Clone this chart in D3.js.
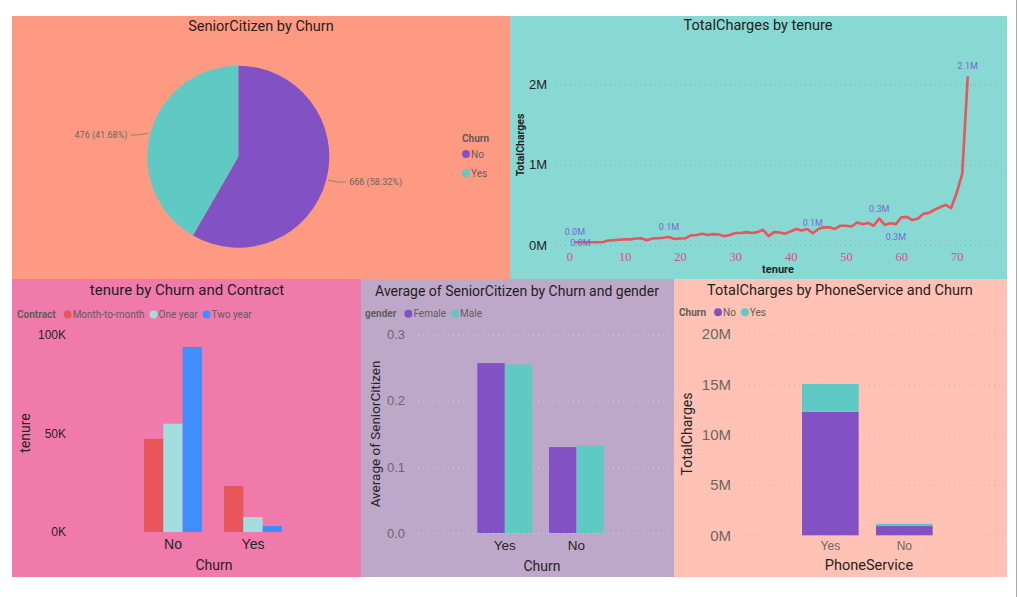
<!DOCTYPE html>
<html>
<head>
<meta charset="utf-8">
<script src="https://cdn.jsdelivr.net/npm/d3@7"></script>
<style>
  body { margin: 0; background: #fff; }
  svg { display: block; font-family: "Roboto", "Noto Sans", sans-serif; }
  .grid .tick line { stroke: #9a8f95; stroke-opacity: 0.6; stroke-dasharray: 1,4; }
  .domain { display: none; }
</style>
</head>
<body>
<svg id="chart" width="1019" height="597"></svg>
<script>
// ---- data ----
const pieCats = ["No", "Yes"];
const pieValues = [666, 476];

const tenure = [1,2,3,4,5,6,7,8,9,10,11,12,13,14,15,16,17,18,19,20,21,22,23,24,
  25,26,27,28,29,30,31,32,33,34,35,36,37,38,39,40,41,42,43,44,45,46,47,48,
  49,50,51,52,53,54,55,56,57,58,59,60,61,62,63,64,65,66,67,68,69,70,71,72];
const totalChargesM = [0.035,0.035,0.035,0.035,0.035,0.035,0.055,0.06,0.065,0.07,0.07,0.08,
  0.085,0.06,0.08,0.085,0.09,0.10,0.075,0.08,0.085,0.12,0.125,0.14,
  0.125,0.135,0.13,0.11,0.125,0.15,0.15,0.16,0.15,0.16,0.19,0.11,
  0.16,0.155,0.14,0.17,0.20,0.18,0.20,0.145,0.20,0.22,0.22,0.20,
  0.24,0.24,0.23,0.28,0.26,0.275,0.24,0.33,0.25,0.27,0.26,0.345,
  0.35,0.31,0.33,0.39,0.40,0.44,0.47,0.50,0.46,0.65,0.89,2.1];
const labelTenures = [1, 2, 18, 44, 56, 59, 72];
const labelsBelow = [2, 59];

const churnCats = ["No", "Yes"];
const contracts = ["Month-to-month", "One year", "Two year"];
const tenureNo = [47200, 54900, 93800];
const tenureYes = [23300, 7600, 3000];

const genderChurn = ["Yes", "No"];
const genders = ["Female", "Male"];
const seniorFemale = [0.257, 0.130];
const seniorMale = [0.255, 0.132];

const phoneCats = ["Yes", "No"];
const chargesChurnNo = [12.26e6, 0.92e6];
const chargesChurnYes = [2.78e6, 0.23e6];

// ---- colours ----
const purple = "#8251C4", teal = "#5FC9C4";
const contractColors = ["#E9565A", "#A0DFDD", "#418CFF"];

const svg = d3.select("#chart");

// panels
const panels = [
  [12, 16, 498, 263, "#FF9A82"],
  [510, 16, 497, 263, "#88D8D4"],
  [12, 279, 349, 298, "#F07BAA"],
  [361, 279, 313, 298, "#BEA8C9"],
  [674, 279, 333, 298, "#FFC2B4"]
];
svg.selectAll("rect.panel").data(panels).enter().append("rect")
  .attr("class", "panel")
  .attr("x", d => d[0]).attr("y", d => d[1])
  .attr("width", d => d[2]).attr("height", d => d[3])
  .attr("fill", d => d[4]);
svg.append("line").attr("x1", 1016.5).attr("x2", 1016.5).attr("y1", 0).attr("y2", 597)
  .attr("stroke", "#aaa");

function title(text, x, y, size) {
  svg.append("text").attr("x", x).attr("y", y).attr("text-anchor", "middle")
    .attr("font-size", size).attr("fill", "#1f1e1d").text(text);
}

function yTitle(text, x, y, size, weight) {
  svg.append("text").attr("transform", `translate(${x},${y}) rotate(-90)`)
    .attr("text-anchor", "middle").attr("font-size", size)
    .attr("font-weight", weight || "normal").attr("fill", "#252423").text(text);
}

function legendRow(x, y, name, items, colors, size) {
  const g = svg.append("g").attr("transform", `translate(${x},${y})`)
    .attr("font-size", size);
  const t = g.append("text").attr("dy", "0.35em").attr("font-weight", "bold")
    .attr("fill", "#605E5C").text(name);
  let cx = t.node().getComputedTextLength() + 8;
  items.forEach((d, i) => {
    g.append("circle").attr("cx", cx + 4).attr("r", 4).attr("fill", colors[i]);
    const tt = g.append("text").attr("x", cx + 9).attr("dy", "0.35em")
      .attr("fill", "#605E5C").text(d);
    cx += 9 + tt.node().getComputedTextLength() + 5;
  });
}

// ================= pie =================
title("SeniorCitizen by Churn", 261, 31, 14.5);
const pie = d3.pie().sort(null)(pieValues);
const radius = 91;
const arc = d3.arc().innerRadius(0).outerRadius(radius);
const pg = svg.append("g").attr("transform", "translate(238.3,156.7)");
pg.selectAll("path").data(pie).enter().append("path")
  .attr("d", arc)
  .attr("fill", (d, i) => [purple, teal][i]);
const edgeArc = d3.arc().innerRadius(radius).outerRadius(radius);
pie.forEach(d => {
  const [px, py] = edgeArc.centroid(d);
  const side = px > 0 ? 1 : -1;
  pg.append("path")
    .attr("d", `M${px + side * 2},${py} Q${px + side * 10},${py + 2} ${px + side * 20},${py + 2}`)
    .attr("fill", "none").attr("stroke", "#777").attr("stroke-width", 0.8);
  pg.append("text")
    .attr("x", px + side * 23).attr("y", py + 2).attr("dy", "0.35em")
    .attr("text-anchor", side > 0 ? "start" : "end")
    .attr("font-size", 9).attr("fill", "#666")
    .text(`${d.data} (${d3.format(".2f")(d.data / d3.sum(pieValues) * 100)}%)`);
});
const lg = svg.append("g").attr("transform", "translate(462,138)").attr("font-size", 10);
lg.append("text").attr("dy", "0.35em").attr("font-weight", "bold").attr("fill", "#605E5C").text("Churn");
pieCats.forEach((c, i) => {
  lg.append("circle").attr("cx", 4).attr("cy", 16 + i * 19).attr("r", 4).attr("fill", [purple, teal][i]);
  lg.append("text").attr("x", 9).attr("y", 16 + i * 19).attr("dy", "0.35em").attr("fill", "#605E5C").text(c);
});

// ================= line =================
title("TotalCharges by tenure", 758, 30, 14.5);
const lx = d3.scaleLinear().domain([0, 70]).range([569.3, 956.7]);
const ly = d3.scaleLinear().domain([0, 2]).range([245, 84.4]);
svg.append("g").attr("class", "grid")
  .attr("transform", "translate(555,0)")
  .call(d3.axisLeft(ly).tickValues([0, 1, 2]).tickFormat(d => d + "M")
    .tickSize(-445).tickPadding(8))
  .call(g => g.selectAll(".tick line").style("stroke", "#c48a9f").style("stroke-opacity", 0.9))
  .call(g => g.selectAll("text").attr("font-size", 13).attr("fill", "#252423"));
svg.append("g").attr("transform", "translate(0,245)")
  .call(d3.axisBottom(lx).tickValues(d3.range(0, 71, 10)).tickSize(0).tickPadding(7))
  .call(g => g.selectAll("text").attr("font-size", 12.5)
    .attr("font-family", "'Liberation Serif', serif").attr("fill", "#D94F8A"));
svg.append("text").attr("x", 778).attr("y", 273).attr("text-anchor", "middle")
  .attr("font-size", 11).attr("font-weight", "bold").attr("fill", "#252423").text("tenure");
yTitle("TotalCharges", 524, 145, 10.5, "bold");
const line = d3.line().x((d, i) => lx(tenure[i])).y(d => ly(d));
svg.append("path").datum(totalChargesM)
  .attr("d", line).attr("fill", "none")
  .attr("stroke", "#E8555A").attr("stroke-width", 2.6).attr("stroke-linejoin", "round");
svg.append("g").selectAll("text").data(labelTenures).enter().append("text")
  .attr("x", t => lx(t))
  .attr("y", t => {
    const v = totalChargesM[tenure.indexOf(t)];
    if (labelsBelow.includes(t)) return ly(v) + (t < 10 ? 4 : 16);
    return ly(v) - 7;
  })
  .attr("text-anchor", "middle").attr("font-size", 9).attr("fill", "#7B68D0")
  .text(t => d3.format(".1f")(totalChargesM[tenure.indexOf(t)]) + "M");

// ================= tenure by Churn and Contract =================
title("tenure by Churn and Contract", 187, 295, 15);
legendRow(17, 314.5, "Contract", contracts, contractColors, 10);
const bx0 = d3.scaleBand().domain(churnCats).range([122, 304]).paddingInner(0.275).paddingOuter(0.275);
const bx1 = d3.scaleBand().domain(contracts).range([0, bx0.bandwidth()]);
const by = d3.scaleLinear().domain([0, 100000]).range([532, 334.7]);
const tenureRows = [tenureNo, tenureYes];
svg.append("g").selectAll("g").data(tenureRows).enter().append("g")
  .attr("transform", (d, i) => `translate(${bx0(churnCats[i])},0)`)
  .selectAll("rect").data(d => d).enter().append("rect")
  .attr("x", (d, j) => bx1(contracts[j]))
  .attr("width", bx1.bandwidth())
  .attr("y", d => by(d))
  .attr("height", d => by(0) - by(d))
  .attr("fill", (d, j) => contractColors[j]);
svg.append("g").attr("transform", "translate(66,0)")
  .call(d3.axisLeft(by).tickValues([0, 50000, 100000]).tickFormat(d => d / 1000 + "K").tickSize(0).tickPadding(0))
  .call(g => g.selectAll("text").attr("font-size", 12).attr("fill", "#252423"));
svg.append("g").attr("transform", "translate(0,532)")
  .call(d3.axisBottom(bx0).tickSize(0).tickPadding(7))
  .call(g => g.selectAll("text").attr("font-size", 14).attr("fill", "#252423"));
svg.append("text").attr("x", 214).attr("y", 570).attr("text-anchor", "middle")
  .attr("font-size", 14).attr("fill", "#252423").text("Churn");
yTitle("tenure", 30, 433, 14);

// ================= Average of SeniorCitizen by Churn and gender =================
title("Average of SeniorCitizen by Churn and gender", 517, 296, 14);
legendRow(365, 313.7, "gender", genders, [purple, teal], 10);
const gx0 = d3.scaleBand().domain(genderChurn).range([460.6, 620.7]).paddingInner(0.233).paddingOuter(0.233);
const gx1 = d3.scaleBand().domain(genders).range([0, gx0.bandwidth()]);
const gy = d3.scaleLinear().domain([0, 0.3]).range([533, 334.7]);
svg.append("g").attr("class", "grid")
  .attr("transform", "translate(413,0)")
  .call(d3.axisLeft(gy).tickValues([0, 0.1, 0.2, 0.3]).tickFormat(d3.format(".1f"))
    .tickSize(-259).tickPadding(8))
  .call(g => g.selectAll(".tick line").style("stroke", "#e4dcea"))
  .call(g => g.selectAll("text").attr("font-size", 13).attr("fill", "#6b6670"));
const genderRows = genderChurn.map((c, i) => [seniorFemale[i], seniorMale[i]]);
svg.append("g").selectAll("g").data(genderRows).enter().append("g")
  .attr("transform", (d, i) => `translate(${gx0(genderChurn[i])},0)`)
  .selectAll("rect").data(d => d).enter().append("rect")
  .attr("x", (d, j) => gx1(genders[j]))
  .attr("width", gx1.bandwidth())
  .attr("y", d => gy(d))
  .attr("height", d => gy(0) - gy(d))
  .attr("fill", (d, j) => [purple, teal][j]);
svg.append("g").attr("transform", "translate(0,533)")
  .call(d3.axisBottom(gx0).tickSize(0).tickPadding(7))
  .call(g => g.selectAll("text").attr("font-size", 13.5).attr("fill", "#252423"));
svg.append("text").attr("x", 542).attr("y", 571).attr("text-anchor", "middle")
  .attr("font-size", 14).attr("fill", "#252423").text("Churn");
yTitle("Average of SeniorCitizen", 380, 434, 13.5);

// ================= TotalCharges by PhoneService and Churn =================
title("TotalCharges by PhoneService and Churn", 840, 295, 14.5);
legendRow(679, 312.3, "Churn", pieCats, [purple, teal], 10);
const px = d3.scaleBand().domain(phoneCats).range([784.7, 950]).paddingInner(0.234).paddingOuter(0.234);
const py = d3.scaleLinear().domain([0, 20e6]).range([535.3, 334]);
svg.append("g").attr("class", "grid")
  .attr("transform", "translate(734,0)")
  .call(d3.axisLeft(py).tickValues([0, 5e6, 10e6, 15e6, 20e6]).tickFormat(d => d / 1e6 + "M")
    .tickSize(-271).tickPadding(3))
  .call(g => g.selectAll(".tick line").style("stroke", "#c9a59c"))
  .call(g => g.selectAll("text").attr("font-size", 15).attr("fill", "#6b6664"));
const phoneRows = phoneCats.map((c, i) => ({ cat: c, No: chargesChurnNo[i], Yes: chargesChurnYes[i] }));
const stacked = d3.stack().keys(pieCats)(phoneRows);
svg.append("g").selectAll("g").data(stacked).enter().append("g")
  .attr("fill", (d, i) => [purple, teal][i])
  .selectAll("rect").data(d => d).enter().append("rect")
  .attr("x", d => px(d.data.cat))
  .attr("width", px.bandwidth())
  .attr("y", d => py(d[1]))
  .attr("height", d => py(d[0]) - py(d[1]));
svg.append("g").attr("transform", "translate(0,535.3)")
  .call(d3.axisBottom(px).tickSize(0).tickPadding(6))
  .call(g => g.selectAll("text").attr("font-size", 12).attr("fill", "#6b6664"));
svg.append("text").attr("x", 869).attr("y", 570).attr("text-anchor", "middle")
  .attr("font-size", 14.5).attr("fill", "#252423").text("PhoneService");
yTitle("TotalCharges", 692, 434, 14);
</script>
</body>
</html>
